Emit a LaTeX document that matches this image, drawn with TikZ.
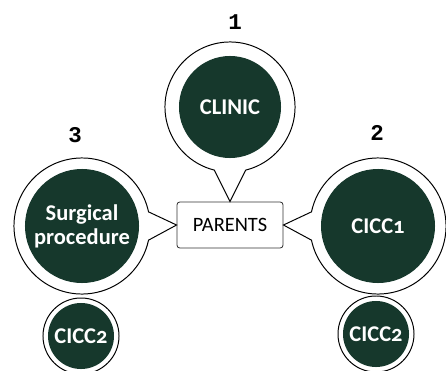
\documentclass[tikz,border=0pt]{standalone}
\usepackage{fontspec}
\setmainfont{Carlito}[Numbers=OldStyle]
\newfontfamily\numfont{Liberation Mono}
\usetikzlibrary{calc}
\definecolor{darkteal}{RGB}{22,56,44}

\begin{document}
\begin{tikzpicture}[x=0.025cm, y=0.025cm,
  topic/.style={circle, fill=darkteal, text=white, inner sep=0pt, align=center, font=\fontsize{16}{17}\selectfont\bfseries},
  ring/.style={draw, line width=0.7pt},
  num/.style={font=\fontsize{16}{18}\selectfont\numfont\bfseries}]
\useasboundingbox (0,0) rectangle (446,370);
\node[draw=black!80, line width=0.6pt, rounded corners=2pt, minimum width=2.65cm, minimum height=1.15cm, font=\fontsize{14.5}{16}\selectfont] (parents) at (230,145) {PARENTS};
\node[topic, minimum size=2.55cm] (clinic) at (230,263) {CLINIC};
\node[topic, minimum size=2.85cm] (cicc1) at (378,144) {CICC1};
\node[topic, minimum size=2.85cm] (surg) at (82,144) {Surgical\\procedure};
\node[topic, minimum size=1.65cm] (cicca) at (81,34) {CICC2};
\node[topic, minimum size=1.65cm] (ciccb) at (376,36) {CICC2};
% speech bubbles pointing at the box
\draw[ring] ($(clinic)+(-76:1.625cm)$) arc[start angle=-76, end angle=256, radius=1.625cm] -- (parents.north) -- cycle;
\draw[ring] ($(surg)+(12:1.7cm)$) arc[start angle=12, end angle=348, radius=1.7cm] -- (parents.west) -- cycle;
\draw[ring] ($(cicc1)+(-168:1.7cm)$) arc[start angle=-168, end angle=168, radius=1.7cm] -- (parents.east) -- cycle;
\draw[ring] (cicca) circle[radius=0.95cm];
\draw[ring] (ciccb) circle[radius=0.95cm];
\node[num] (n1) at (235,348) {1};
\node[num] (n2) at (377,237) {2};
\node[num] (n3) at (75,235) {3};
\end{tikzpicture}
\end{document}
